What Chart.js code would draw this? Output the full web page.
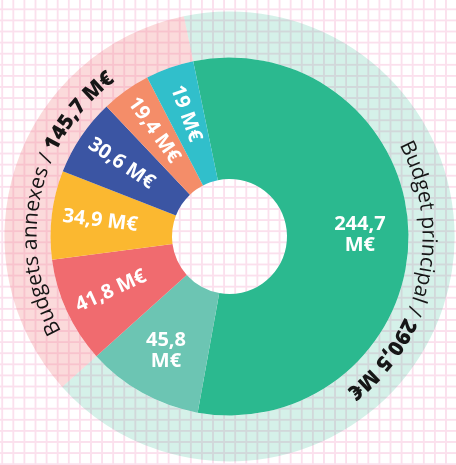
<!DOCTYPE html>
<html>
<head>
<meta charset="utf-8">
<script src="https://cdn.jsdelivr.net/npm/chart.js@4.4.1/dist/chart.umd.min.js"></script>
<style>
  html, body {
    margin: 0;
    padding: 0;
    width: 456px;
    height: 465px;
    overflow: hidden;
    background-color: #ffffff;
    background-image:
      linear-gradient(to right, rgb(251, 224, 237) 1.5px, transparent 1.5px),
      linear-gradient(to bottom, rgb(251, 224, 237) 1.5px, transparent 1.5px);
    background-size: 11.1px 11.1px;
    background-position: 1.3px 8.4px;
  }
  #wrap { width: 456px; height: 465px; }
</style>
</head>
<body>
<div id="wrap"><canvas id="budget" width="456" height="465"></canvas></div>
<script>
// inner ring : detail of each budget (M€), clockwise from the top
const innerValues = [244.7, 45.8, 41.8, 34.9, 30.6, 19.4, 19];
const innerLabels = ['244,7 M€', '45,8 M€', '41,8 M€', '34,9 M€', '30,6 M€', '19,4 M€', '19 M€'];
const innerGroup = [0, 0, 1, 1, 1, 1, 1];
const innerColors = ['#2bb98f', '#6cc5b3', '#f06b6f', '#fbb830', '#3b55a3', '#f48d69', '#31bfcb'];

// outer ring : totals by group
const groupValues = [290.5, 145.7];
const groupNames = ['Budget principal', 'Budgets annexes'];
const groupTotals = ['290,5 M€', '145,7 M€'];
const groupColors = ['rgba(43, 185, 143, 0.2)', 'rgba(240, 107, 111, 0.25)'];

// white values inside the inner ring
const valueLabels = {
    id: 'valueLabels',
    afterDatasetsDraw(chart) {
        const ctx = chart.ctx;
        const meta = chart.getDatasetMeta(1);
        ctx.save();
        ctx.fillStyle = '#ffffff';
        ctx.font = 'bold 20px "Open Sans", sans-serif';
        ctx.textAlign = 'center';
        ctx.textBaseline = 'middle';
        meta.data.forEach(function(arc, i) {
            const p = arc.getProps(['x', 'y', 'startAngle', 'endAngle', 'innerRadius', 'outerRadius'], true);
            const mid = (p.startAngle + p.endAngle) / 2;
            const r = p.innerRadius + (p.outerRadius - p.innerRadius) * 0.6;
            const x = p.x + r * Math.cos(mid);
            const y = p.y + r * Math.sin(mid);
            ctx.save();
            ctx.translate(x, y);
            if (innerGroup[i] === 0) {
                const txt = innerLabels[i];
                const cut = txt.lastIndexOf(' ');
                ctx.fillText(txt.slice(0, cut), 0, -10.5);
                ctx.fillText(txt.slice(cut + 1), 0, 10.5);
            } else {
                ctx.rotate(mid + Math.PI);
                ctx.fillText(innerLabels[i], 0, 0);
            }
            ctx.restore();
        });
        ctx.restore();
    }
};

// group names written along the outer ring
const ringTitles = {
    id: 'ringTitles',
    afterDatasetsDraw(chart) {
        const ctx = chart.ctx;
        const meta = chart.getDatasetMeta(0);
        const regular = '21px "Open Sans", sans-serif';
        const bold = '800 21px "Open Sans", sans-serif';
        ctx.save();
        ctx.fillStyle = '#161616';
        ctx.textAlign = 'left';
        ctx.textBaseline = 'alphabetic';
        meta.data.forEach(function(arc, i) {
            const p = arc.getProps(['x', 'y', 'startAngle', 'endAngle', 'innerRadius', 'outerRadius'], true);
            const radius = p.innerRadius + 14;
            const parts = [
                { text: groupNames[i] + ' / ', font: regular },
                { text: groupTotals[i], font: bold }
            ];
            let total = 0;
            parts.forEach(function(part) {
                ctx.font = part.font;
                total += ctx.measureText(part.text).width;
            });
            const center = (p.startAngle + p.endAngle) / 2 - 6 * Math.PI / 180;
            let angle = center - total / 2 / radius;
            parts.forEach(function(part) {
                ctx.font = part.font;
                for (const ch of part.text) {
                    const w = ctx.measureText(ch).width;
                    const a = angle + w / 2 / radius;
                    ctx.save();
                    ctx.translate(p.x + radius * Math.cos(a), p.y + radius * Math.sin(a));
                    ctx.rotate(a + Math.PI / 2);
                    ctx.fillText(ch, -w / 2, 0);
                    ctx.restore();
                    angle += w / radius;
                }
            });
        });
        ctx.restore();
    }
};

new Chart(document.getElementById('budget'), {
    type: 'doughnut',
    data: {
        labels: innerLabels,
        datasets: [{
            data: groupValues,
            backgroundColor: groupColors,
            borderWidth: 0,
            weight: 46
        }, {
            data: innerValues,
            backgroundColor: innerColors,
            borderWidth: 0,
            weight: 121.5
        }]
    },
    options: {
        responsive: false,
        animation: false,
        rotation: -11.7,
        cutout: 57.5,
        layout: {
            padding: { left: 4.5, right: 1.5, top: 11.5, bottom: 3.5 }
        },
        plugins: {
            legend: { display: false },
            tooltip: { enabled: false }
        }
    },
    plugins: [valueLabels, ringTitles]
});
</script>
</body>
</html>
